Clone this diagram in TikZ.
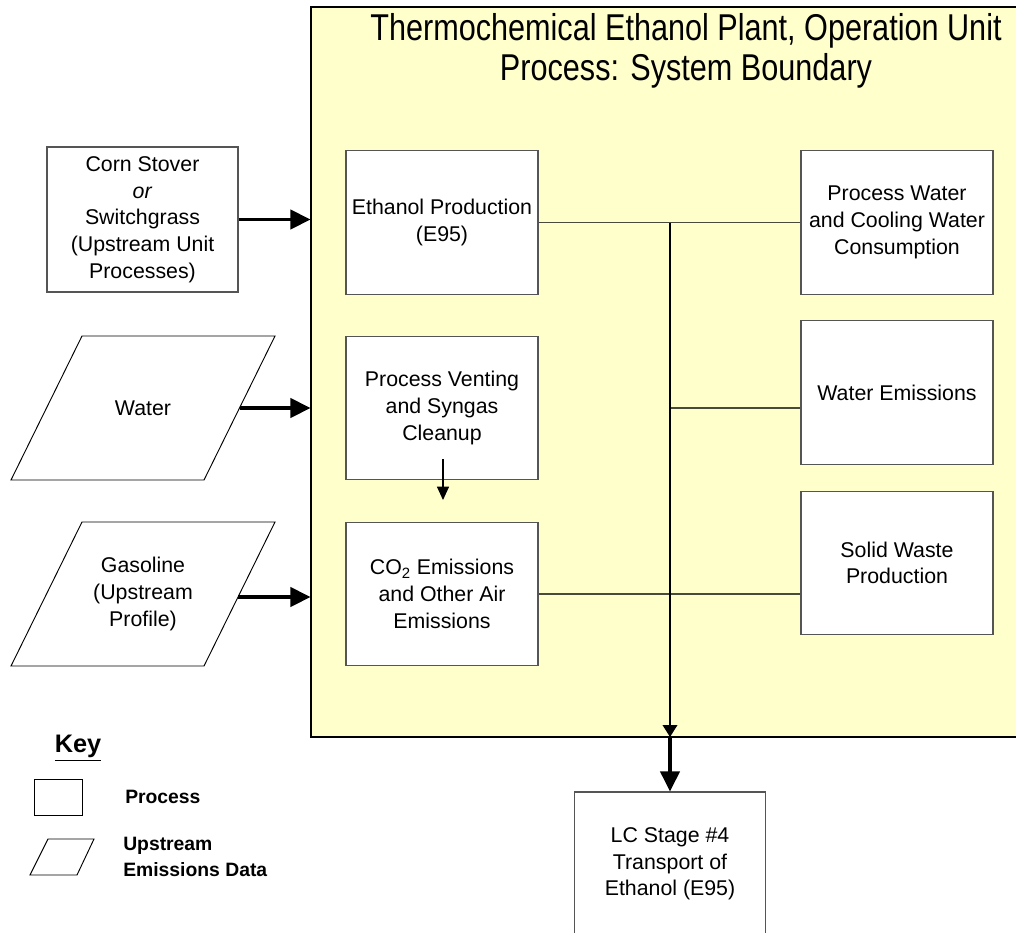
\documentclass[tikz,border=0pt]{standalone}
\usepackage{fontspec}
\setmainfont{Liberation Sans}
\newfontfamily\narrowfont[FakeStretch=0.82]{Liberation Sans}
\usetikzlibrary{arrows.meta}
\definecolor{boundfill}{HTML}{FFFFCC}
\definecolor{edgegray}{HTML}{555555}
\definecolor{linegray}{HTML}{4A4A3A}
\tikzset{
  proc/.style={draw=edgegray, line width=0.9pt, fill=white, minimum width=144pt,
    minimum height=107.5pt, inner sep=0pt, align=center,
    font=\fontsize{16}{20}\selectfont},
  sysbox/.style={draw=black, line width=0.8pt, fill=boundfill, minimum width=531.75pt,
    minimum height=547.5pt, inner sep=0pt},
  para/.style={draw=black, line width=0.7pt, fill=white},
  lbl/.style={align=center, inner sep=0pt, font=\fontsize{16}{20}\selectfont},
  keylbl/.style={align=left, inner sep=0pt, anchor=west, font=\fontsize{14.5}{19}\selectfont\bfseries},
  bigarrow/.style={line width=2.3pt, -{Triangle[length=15pt,width=14.5pt]}},
  midarrow/.style={line width=1.1pt, -{Triangle[length=9pt,width=11pt]}},
  smallarrow/.style={line width=0.8pt, -{Triangle[length=10pt,width=9pt]}},
  conn/.style={draw=linegray, line width=1pt},
}
\begin{document}
\begin{tikzpicture}[x=0.75pt,y=-0.75pt]
\useasboundingbox (0,0) rectangle (1016,932);
% system boundary
\node[sysbox] (sys) at (665.5,372) {};
\node[font=\narrowfont\fontsize{28}{30}\selectfont, align=center, inner sep=0pt, anchor=north] (title) at (686,13)
  {Thermochemical Ethanol Plant, Operation Unit\\Process: System Boundary};
% inputs
\node[proc, minimum width=143.25pt, minimum height=108.75pt] (corn) at (142.5,219.5)
  {Corn Stover\\\textit{or}\\Switchgrass\\(Upstream Unit\\Processes)};
\draw[para] (82,336) -- (275,336) -- (204,480) -- (11,480) -- cycle;
\node[lbl] (water) at (143,408) {Water};
\coordinate (waterR) at (239.5,408);
\draw[para] (82,522) -- (275,522) -- (204,666) -- (11,666) -- cycle;
\node[lbl] (gas) at (143,594) {Gasoline\\(Upstream\\Profile)};
\coordinate (gasR) at (238,597);
% process boxes
\node[proc] (eth) at (442,222.5) {Ethanol Production\\(E95)};
\node[proc] (vent) at (442,408) {Process Venting\\and Syngas\\Cleanup};
\node[proc] (co2) at (442,594) {CO\textsubscript{2} Emissions\\and Other Air\\Emissions};
\node[proc] (pw) at (897,222.5) {Process Water\\and Cooling Water\\Consumption};
\node[proc] (we) at (897,392.5) {Water Emissions};
\node[proc] (sw) at (897,563) {Solid Waste\\Production};
\node[proc, minimum width=143.25pt, minimum height=108pt] (lc) at (670,864)
  {LC Stage \#4\\Transport of\\Ethanol (E95)};
% input arrows
\draw[bigarrow] (corn.east) -- (corn.east -| sys.west);
\draw[bigarrow] (waterR) -- (waterR -| sys.west);
\draw[bigarrow] (gasR) -- (gasR -| sys.west);
% connectors
\coordinate (tj) at (670,222.5);
\coordinate (tw) at (670,408);
\coordinate (tb) at (670,737);
\draw[conn] (eth.east) -- (eth.east -| pw.west);
\draw[conn] (tw) -- (tw -| we.west);
\draw[conn] (co2.east) -- (co2.east -| sw.west);
\draw[midarrow] (tj) -- (tb);
\draw[bigarrow] (tb) -- (lc.north);
\coordinate (ventS) at (443,459);
\coordinate (co2N) at (443,500);
\draw[smallarrow] (ventS) -- (co2N);
% key
\node[font=\fontsize{19}{22}\selectfont\bfseries, inner sep=0pt] (key) at (78,748) {\underline{Key}};
\node[draw=black, line width=0.7pt, minimum width=36pt, minimum height=27pt, inner sep=0pt] (keyproc) at (58,797) {};
\node[keylbl] (keyproclbl) at (125,797) {Process};
\draw[para] (48,839) -- (94,839) -- (77,875) -- (30,875) -- cycle;
\node[keylbl] (keyup) at (123,857) {Upstream\\Emissions Data};
\end{tikzpicture}
\end{document}
